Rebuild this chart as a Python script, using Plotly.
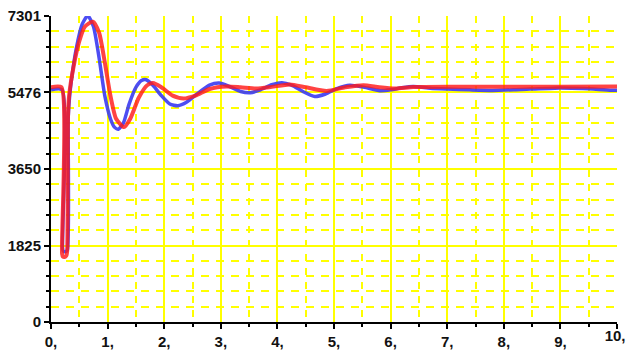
import plotly.graph_objects as go

# Time axis (s) and response of the two signals
blue_t = [0.0, 0.195, 0.205, 0.22, 0.26, 0.29, 0.305, 0.33, 0.37, 0.45, 0.55, 0.65,
          0.75, 0.85, 0.95, 1.05, 1.12, 1.19, 1.28, 1.38, 1.5, 1.6, 1.68, 1.8,
          1.95, 2.1, 2.24, 2.4, 2.6, 2.8, 2.97, 3.15, 3.35, 3.52, 3.7, 3.9, 4.08,
          4.25, 4.45, 4.66, 4.85, 5.05, 5.28, 5.5, 5.81, 6.0, 6.2, 6.4, 6.7, 7.0,
          7.4, 7.8, 8.3, 8.9, 9.4, 9.9, 10.0]
blue_v = [5540, 5540, 1760, 1690, 1680, 1720, 4900, 5400, 5870, 6550, 7100, 7310,
          7050, 6300, 5400, 4850, 4650, 4600, 4750, 5200, 5600, 5760, 5780, 5650,
          5400, 5200, 5160, 5250, 5460, 5650, 5700, 5620, 5500, 5470, 5540, 5660, 5710,
          5650, 5500, 5380, 5440, 5570, 5650, 5610, 5520, 5540, 5590, 5620, 5580, 5560,
          5540, 5526, 5550, 5580, 5570, 5530, 5530]

red_t = [0.0, 0.185, 0.195, 0.21, 0.24, 0.27, 0.285, 0.30, 0.32, 0.40, 0.5, 0.6,
         0.74, 0.85, 0.95, 1.05, 1.15, 1.29, 1.4, 1.55, 1.7, 1.8, 1.95, 2.15,
         2.34, 2.55, 2.8, 3.1, 3.35, 3.63, 3.9, 4.22, 4.5, 4.87, 5.2, 5.52, 5.8,
         6.08, 6.4, 7.0, 8.0, 9.0, 10.0]
red_v = [5600, 5600, 1640, 1560, 1550, 1580, 1680, 4900, 5400, 6100, 6700, 7050,
         7165, 6900, 6200, 5400, 4850, 4650, 4850, 5350, 5650, 5700, 5600, 5400,
         5330, 5400, 5560, 5620, 5600, 5570, 5610, 5666, 5600, 5514, 5600, 5650, 5600,
         5570, 5605, 5615, 5610, 5615, 5620]

x_ticks = [0, 1, 2, 3, 4, 5, 6, 7, 8, 9, 10]
x_labels = ["0,", "1,", "2,", "3,", "4,", "5,", "6,", "7,", "8,", "9,", "10,"]
x_minor = [0.5, 1.5, 2.5, 3.5, 4.5, 5.5, 6.5, 7.5, 8.5, 9.5]
y_ticks = [0, 1825, 3650, 5476, 7301]
y_labels = ["0", "1825", "3650", "5476", "7301"]
y_minor_step = 7301 / 20

fig = go.Figure()
fig.add_trace(go.Scatter(x=blue_t, y=blue_v, mode="lines",
                         line=dict(color="#3a3af2", width=3.5, shape="spline", smoothing=0.6),
                         opacity=0.9, showlegend=False))
# red curve lives on the overlaid x axis (same range) so it is drawn on top
fig.add_trace(go.Scatter(x=red_t, y=red_v, mode="lines", xaxis="x2", yaxis="y",
                         line=dict(color="#ff1a1a", width=4, shape="spline", smoothing=0.6),
                         opacity=0.82, showlegend=False))

grid_color = "#ffff00"
axis_font = dict(family="Liberation Sans, Arial", size=15, color="#111111", weight="bold")

# main x axis: ticks everywhere, labels for all but the last tick
fig.update_xaxes(
    range=[0, 10], tickvals=x_ticks, ticktext=x_labels[:-1] + [""], automargin=False,
    tickfont=axis_font, ticks="outside", ticklen=5, tickwidth=1.5, tickcolor="black",
    showline=True, linecolor="black", linewidth=2,
    showgrid=True, gridcolor=grid_color, gridwidth=2, zeroline=False,
    minor=dict(tickvals=x_minor, ticks="outside", ticklen=3, tickcolor="black",
               showgrid=True, gridcolor=grid_color, gridwidth=2, griddash="7px,7px"),
)
# overlaid x axis carries the last label, placed left of its tick to stay in the page
fig.update_layout(xaxis2=dict(
    overlaying="x", anchor="y", side="bottom", range=[0, 10], automargin=False,
    tickvals=x_ticks[-1:], ticktext=x_labels[-1:], tickfont=axis_font,
    ticks="outside", ticklen=5, tickcolor="rgba(0,0,0,0)",
    ticklabelposition="outside left", ticklabelshift=9,
    showgrid=False, showline=False, zeroline=False,
))
fig.update_yaxes(
    range=[0, 7301], tickvals=y_ticks, ticktext=y_labels, automargin=False,
    tickfont=axis_font, ticks="outside", ticklen=5, tickwidth=1.5, tickcolor="black",
    showline=True, linecolor="black", linewidth=2,
    showgrid=True, gridcolor=grid_color, gridwidth=2, zeroline=False,
    minor=dict(tickvals=[y_minor_step * k for k in range(21) if k % 5], ticks="outside",
               ticklen=3, tickcolor="black",
               showgrid=True, gridcolor=grid_color, gridwidth=2, griddash="8px,7px"),
)

fig.update_layout(
    width=626, height=351,
    margin=dict(l=51, r=9, t=16, b=29),
    plot_bgcolor="white", paper_bgcolor="white",
    font=dict(family="Liberation Sans, Arial"),
)

fig.write_html("out.html")
